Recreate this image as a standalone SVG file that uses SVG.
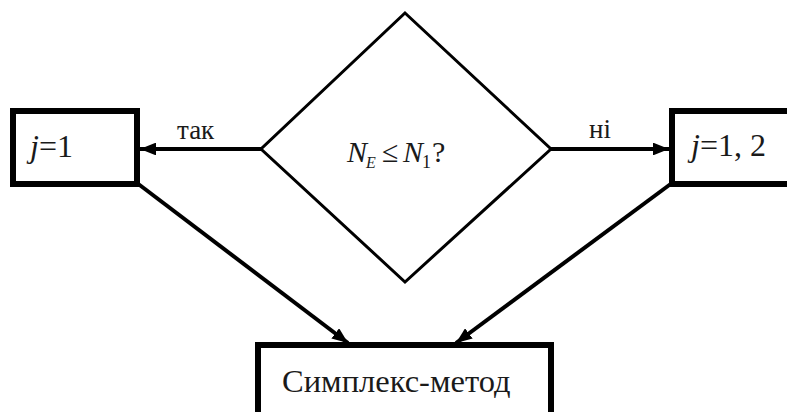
<svg xmlns="http://www.w3.org/2000/svg" width="787" height="412" viewBox="0 0 787 412">
<style>
.box{fill:#fff;stroke:#000;stroke-width:6}
.dia{fill:#fff;stroke:#000;stroke-width:3}
.con{stroke:#000;stroke-width:4;fill:none}
.t{font-family:'Liberation Serif','Times New Roman',serif;fill:#1a1a1a}
</style>
<defs>
<marker id="ah" viewBox="0 0 10 10" refX="10" refY="5" markerWidth="4" markerHeight="3.2" orient="auto" markerUnits="strokeWidth" preserveAspectRatio="none">
<path d="M0,0 L10,5 L0,10 Z" fill="#000"/>
</marker>
</defs>
<rect width="787" height="412" fill="#fff"/>
<g id="connectors">
<line class="con" x1="261" y1="149" x2="140" y2="149" marker-end="url(#ah)"/>
<line class="con" x1="551" y1="149" x2="669" y2="149" marker-end="url(#ah)"/>
<line class="con" x1="137" y1="183" x2="348" y2="343" marker-end="url(#ah)"/>
<line class="con" x1="672" y1="183" x2="456" y2="343" marker-end="url(#ah)"/>
<text class="t" x="177" y="139" font-size="27">так</text>
<text class="t" x="589" y="138" font-size="27">ні</text>
</g>
<g id="decision">
<polygon class="dia" points="405,13 551,149 405,282 261,149"/>
<text class="t" x="347" y="162" font-size="30" font-style="italic">N</text>
<text class="t" x="366" y="168" font-size="16" font-style="italic">E</text>
<text class="t" x="382" y="162" font-size="30">≤</text>
<text class="t" x="403" y="162" font-size="30" font-style="italic">N</text>
<text class="t" x="422" y="168" font-size="18">1</text>
<text class="t" x="432" y="162" font-size="30">?</text>
</g>
<g id="j1">
<rect class="box" x="13" y="111" width="124" height="73"/>
<text class="t" x="30" y="157" font-size="32"><tspan font-style="italic">j</tspan>=1</text>
</g>
<g id="j12">
<rect class="box" x="672" y="111" width="130" height="73"/>
<text class="t" x="691" y="156" font-size="32"><tspan font-style="italic">j</tspan>=1, 2</text>
</g>
<g id="simplex">
<rect class="box" x="258" y="345" width="293" height="80"/>
<text class="t" x="282" y="392" font-size="32.5">Симплекс-метод</text>
</g>
</svg>
